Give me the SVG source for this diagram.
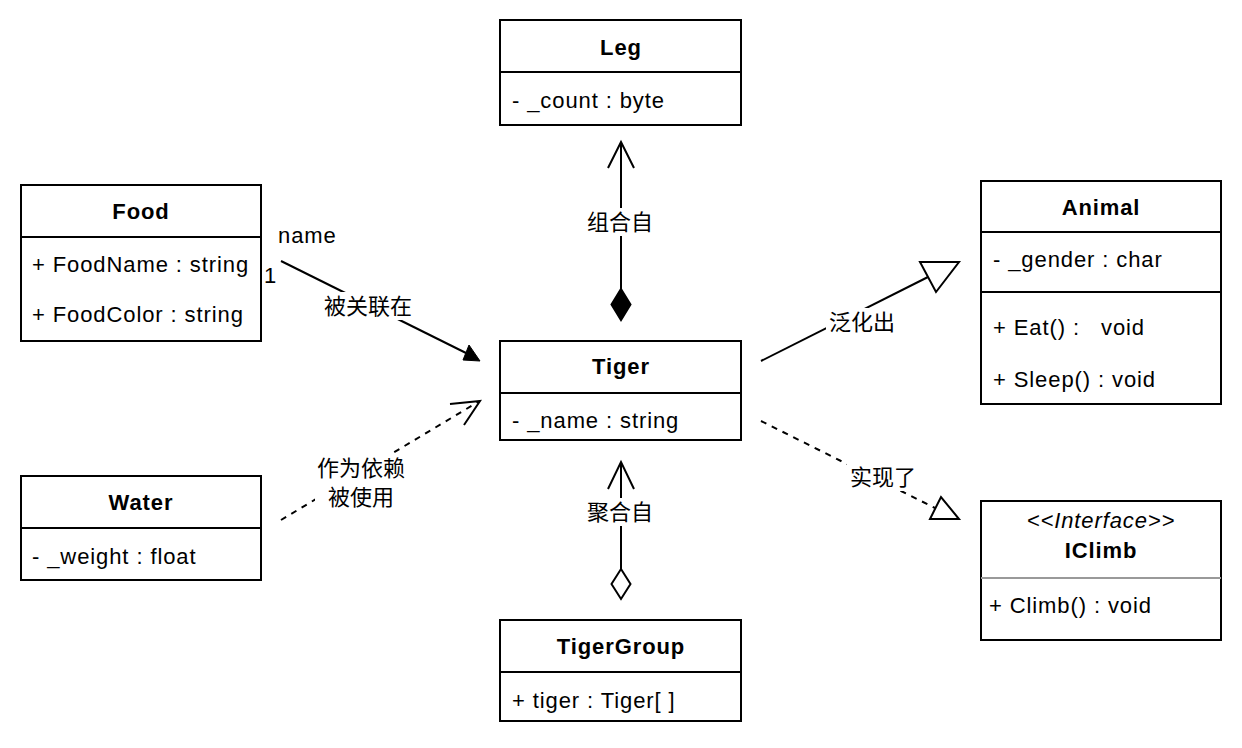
<svg xmlns="http://www.w3.org/2000/svg" width="1242" height="748" viewBox="0 0 1242 748">
<style>
.box{fill:#fff;stroke:#000;stroke-width:2}
.div{stroke:#000;stroke-width:2}
.t{font-family:"Liberation Sans",Arial,"Noto Sans CJK SC",sans-serif;font-size:22px;fill:#000}
.l{letter-spacing:0.9px}
.b{font-weight:bold;text-anchor:middle}
.c{text-anchor:middle}
.ln{fill:none;stroke:#000;stroke-width:2}
.dash{stroke-dasharray:6 6}
.bg{fill:#fff}
</style>
<rect width="1242" height="748" fill="#fff"/>
<g id="connectors">
  <!-- Food -> Tiger association -->
  <line class="ln" x1="281" y1="261" x2="466" y2="353"/>
  <polygon points="480,361 463,360 469,345" fill="#000" stroke="#000" stroke-width="1"/>
  <rect class="bg" x="323" y="292" width="90" height="28"/>
  <text class="t c" x="368" y="314">被关联在</text>
  <text class="t l" x="278" y="243">name</text>
  <text class="t" x="264" y="283">1</text>
  <!-- Water -> Tiger dependency -->
  <line class="ln dash" x1="281" y1="520" x2="478" y2="402"/>
  <polyline class="ln" points="450,404 480,401 464,425"/>
  <rect class="bg" x="315" y="454" width="92" height="58"/>
  <text class="t c" x="361" y="476">作为依赖</text>
  <text class="t c" x="361" y="505">被使用</text>
  <!-- Tiger -> Leg composition -->
  <line class="ln" x1="621" y1="289" x2="621" y2="143"/>
  <polyline class="ln" points="608,168 621,142 634,168"/>
  <polygon points="621,289 630.5,304.5 621,320 611.5,304.5" fill="#000" stroke="#000" stroke-width="2"/>
  <rect class="bg" x="585" y="208" width="72" height="28"/>
  <text class="t c" x="620" y="230">组合自</text>
  <!-- TigerGroup -> Tiger aggregation -->
  <line class="ln" x1="621" y1="569" x2="621" y2="463"/>
  <polyline class="ln" points="608,489 621,462 634,489"/>
  <polygon points="621,569 630.5,584 621,599 611.5,584" fill="#fff" stroke="#000" stroke-width="2"/>
  <rect class="bg" x="585" y="498" width="72" height="28"/>
  <text class="t c" x="620" y="520">聚合自</text>
  <!-- Tiger -> Animal generalization -->
  <line class="ln" x1="761" y1="361" x2="928" y2="277"/>
  <polygon points="959,262 920,262 936,292" fill="#fff" stroke="#000" stroke-width="2"/>
  <rect class="bg" x="826" y="308" width="72" height="28"/>
  <text class="t c" x="862" y="330">泛化出</text>
  <!-- Tiger -> IClimb realization -->
  <line class="ln dash" x1="761" y1="421" x2="935" y2="508"/>
  <polygon points="959,519 930,519 941,497" fill="#fff" stroke="#000" stroke-width="2"/>
  <rect class="bg" x="847" y="463" width="72" height="28"/>
  <text class="t c" x="883" y="485">实现了</text>
</g>
<g id="Leg">
  <rect class="box" x="500" y="20" width="241" height="105"/>
  <line class="div" x1="500" y1="72" x2="741" y2="72"/>
  <text class="t b l" x="621" y="55">Leg</text>
  <text class="t l" x="512" y="108">- _count : byte</text>
</g>
<g id="Food">
  <rect class="box" x="21" y="185" width="240" height="156"/>
  <line class="div" x1="21" y1="237" x2="261" y2="237"/>
  <text class="t b l" x="141" y="219">Food</text>
  <text class="t l" x="32" y="272">+ FoodName : string</text>
  <text class="t l" x="32" y="322">+ FoodColor : string</text>
</g>
<g id="Animal">
  <rect class="box" x="981" y="181" width="240" height="223"/>
  <line class="div" x1="981" y1="232" x2="1221" y2="232"/>
  <line class="div" x1="981" y1="292" x2="1221" y2="292"/>
  <text class="t b l" x="1101" y="215">Animal</text>
  <text class="t l" x="993" y="267">- _gender : char</text>
  <text class="t l" x="993" y="335" xml:space="preserve">+ Eat() :   void</text>
  <text class="t l" x="993" y="387">+ Sleep() : void</text>
</g>
<g id="Tiger">
  <rect class="box" x="500" y="341" width="241" height="99"/>
  <line class="div" x1="500" y1="393" x2="741" y2="393"/>
  <text class="t b l" x="621" y="374">Tiger</text>
  <text class="t l" x="512" y="428">- _name : string</text>
</g>
<g id="Water">
  <rect class="box" x="21" y="476" width="240" height="104"/>
  <line class="div" x1="21" y1="528" x2="261" y2="528"/>
  <text class="t b l" x="141" y="510">Water</text>
  <text class="t l" x="32" y="564">- _weight : float</text>
</g>
<g id="TigerGroup">
  <rect class="box" x="500" y="620" width="241" height="101"/>
  <line class="div" x1="500" y1="672" x2="741" y2="672"/>
  <text class="t b l" x="621" y="654">TigerGroup</text>
  <text class="t l" x="512" y="708">+ tiger : Tiger[ ]</text>
</g>
<g id="IClimb">
  <rect class="box" x="981" y="501" width="240" height="139"/>
  <line x1="981" y1="578" x2="1221" y2="578" stroke="#999" stroke-width="2"/>
  <text class="t c l" x="1101" y="528" font-style="italic">&lt;&lt;Interface&gt;&gt;</text>
  <text class="t b l" x="1101" y="558">IClimb</text>
  <text class="t l" x="989" y="613">+ Climb() : void</text>
</g>
</svg>
